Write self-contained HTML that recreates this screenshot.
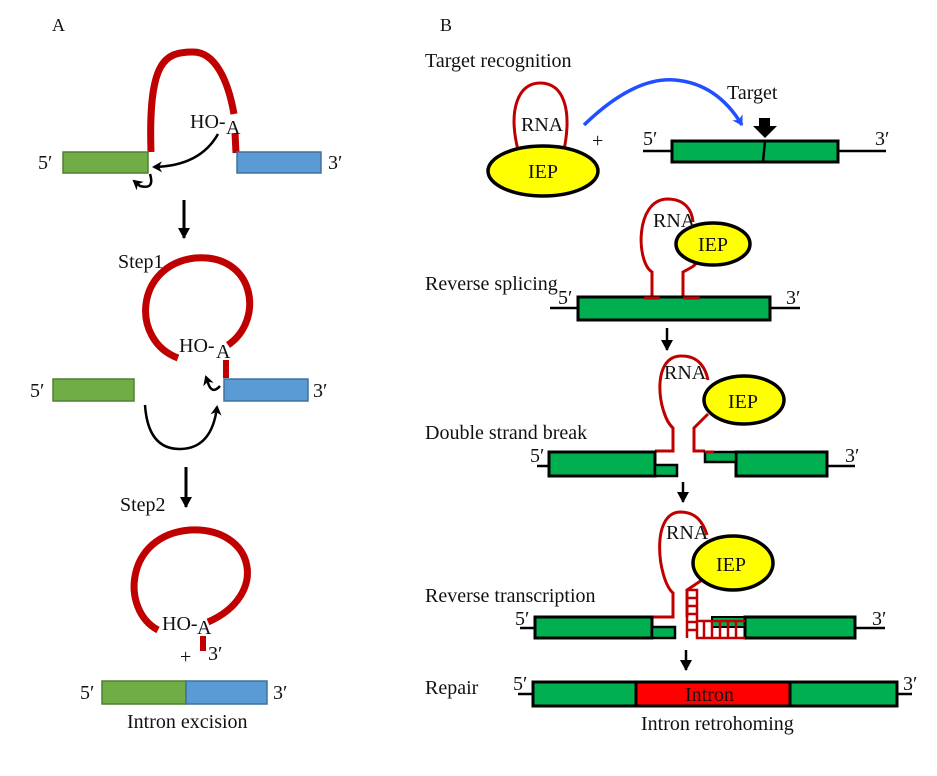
<!DOCTYPE html>
<html><head><meta charset="utf-8"><style>
body{margin:0;background:#fff}
svg text{font-family:"Liberation Serif",serif;font-size:20px;fill:#111}
</style></head><body>
<svg width="937" height="771" viewBox="0 0 937 771" xmlns="http://www.w3.org/2000/svg">
<defs>
<marker id="ah" markerWidth="11" markerHeight="11" refX="8" refY="5.5" orient="auto" markerUnits="userSpaceOnUse"><path d="M0,0 L10,5.5 L0,11 L3,5.5z" fill="#000"/></marker>
<marker id="ab" markerWidth="12" markerHeight="12" refX="9" refY="6" orient="auto" markerUnits="userSpaceOnUse"><path d="M0,0 L10,6 L0,12 L3,6z" fill="#1f4fff"/></marker>
<marker id="ad" markerWidth="12" markerHeight="12" refX="10" refY="6" orient="auto" markerUnits="userSpaceOnUse"><path d="M0,0 L11,6 L0,12z" fill="#000"/></marker>
</defs>
<!-- Panel A -->
<text x="52" y="31" style="font-size:18px">A</text>
<path d="M151,152 C148,60 165,52 193,52 C215,52 228,80 234,114" stroke="#c00000" stroke-width="7" fill="none"/>
<line x1="235" y1="133" x2="236" y2="153" stroke="#c00000" stroke-width="7"/>
<text x="190" y="128">HO-</text><text x="226" y="134">A</text>
<rect x="63" y="152" width="85" height="21" fill="#70ad47" stroke="#507e32" stroke-width="1.5"/>
<rect x="237" y="152" width="84" height="21" fill="#5b9bd5" stroke="#41719c" stroke-width="1.5"/>
<text x="38" y="169">5′</text><text x="328" y="169">3′</text>
<path d="M218,134 Q200,166 154,167" stroke="#000" stroke-width="2.5" fill="none" marker-end="url(#ah)"/>
<path d="M150,174 Q155,190 140,186 L134,181" stroke="#000" stroke-width="2.5" fill="none" marker-end="url(#ah)"/>
<line x1="184" y1="200" x2="184" y2="238" stroke="#000" stroke-width="3" marker-end="url(#ad)"/>
<text x="118" y="268">Step1</text>
<path d="M178,358 C130,340 135,265 195,258 C255,253 265,320 228,345" stroke="#c00000" stroke-width="7" fill="none"/>
<text x="179" y="352">HO-</text><text x="216" y="358">A</text>
<line x1="226" y1="360" x2="226" y2="378" stroke="#c00000" stroke-width="6"/>
<rect x="53" y="379" width="81" height="22" fill="#70ad47" stroke="#507e32" stroke-width="1.5"/>
<rect x="224" y="379" width="84" height="22" fill="#5b9bd5" stroke="#41719c" stroke-width="1.5"/>
<text x="30" y="397">5′</text><text x="313" y="397">3′</text>
<path d="M220,386 Q212,395 208,383 L206,377" stroke="#000" stroke-width="2.5" fill="none" marker-end="url(#ah)"/>
<path d="M145,405 Q148,450 181,449 Q212,448 217,407" stroke="#000" stroke-width="2.5" fill="none" marker-end="url(#ah)"/>
<line x1="186" y1="467" x2="186" y2="507" stroke="#000" stroke-width="3" marker-end="url(#ad)"/>
<text x="120" y="511">Step2</text>
<path d="M158,630 C120,610 125,535 190,530 C255,527 270,595 208,622" stroke="#c00000" stroke-width="7" fill="none"/>
<text x="162" y="630">HO-</text><text x="197" y="634">A</text>
<line x1="203" y1="636" x2="203" y2="651" stroke="#c00000" stroke-width="6"/>
<text x="180" y="663">+</text><text x="208" y="660">3′</text>
<rect x="102" y="681" width="84" height="23" fill="#70ad47" stroke="#507e32" stroke-width="1.5"/>
<rect x="186" y="681" width="81" height="23" fill="#5b9bd5" stroke="#41719c" stroke-width="1.5"/>
<text x="80" y="699">5′</text><text x="273" y="699">3′</text>
<text x="127" y="728">Intron excision</text>
<!-- Panel B -->
<text x="440" y="31" style="font-size:18px">B</text>
<text x="425" y="67">Target recognition</text>
<path d="M518,150 C508,110 518,83 540,83 C564,83 572,110 564,150" stroke="#c00000" stroke-width="3" fill="none"/>
<text x="521" y="131">RNA</text>
<ellipse cx="543" cy="171" rx="55" ry="25" fill="#ffff00" stroke="#000" stroke-width="3.5"/>
<text x="528" y="178">IEP</text>
<text x="592" y="147">+</text>
<path d="M584,125 C620,90 650,78 675,80 C710,83 730,105 742,125" stroke="#1f4fff" stroke-width="3.5" fill="none" marker-end="url(#ab)"/>
<text x="727" y="99">Target</text>
<line x1="643" y1="151" x2="886" y2="151" stroke="#000" stroke-width="2.5"/>
<rect x="672" y="141" width="166" height="21" fill="#00b050" stroke="#000" stroke-width="3"/>
<line x1="765" y1="141" x2="763" y2="162" stroke="#000" stroke-width="2.5"/>
<path d="M759,118 h11 v8 h7 l-12,12 l-12,-12 h6z" fill="#000"/>
<text x="643" y="145">5′</text><text x="875" y="145">3′</text>
<!-- reverse splicing -->
<path d="M652,298 V272 C636,262 635,200 667,199 C685,199 692,210 693,222 M683,298 V272 C690,268 694,267 697,262" stroke="#c00000" stroke-width="3" fill="none"/>
<ellipse cx="713" cy="244" rx="37" ry="21" fill="#ffff00" stroke="#000" stroke-width="3.5"/>
<text x="653" y="227">RNA</text><text x="698" y="251">IEP</text>
<text x="425" y="290">Reverse splicing</text>
<line x1="550" y1="308" x2="800" y2="308" stroke="#000" stroke-width="2.5"/>
<rect x="578" y="297" width="192" height="23" fill="#00b050" stroke="#000" stroke-width="3"/>
<line x1="644" y1="298" x2="660" y2="298" stroke="#c00000" stroke-width="3"/>
<line x1="683" y1="298" x2="700" y2="298" stroke="#c00000" stroke-width="3"/>
<text x="558" y="304">5′</text><text x="786" y="304">3′</text>
<line x1="667" y1="328" x2="667" y2="350" stroke="#000" stroke-width="2.5" marker-end="url(#ad)"/>
<!-- double strand break -->
<path d="M655,451 H673 V428 C658,415 650,355 682,356 C700,356 706,370 708,380 M705,451 H694 V428 C700,422 704,418 708,414" stroke="#c00000" stroke-width="3" fill="none"/>
<ellipse cx="744" cy="400" rx="40" ry="24" fill="#ffff00" stroke="#000" stroke-width="3.5"/>
<text x="664" y="379">RNA</text><text x="728" y="408">IEP</text>
<text x="425" y="439">Double strand break</text>
<line x1="537" y1="466" x2="549" y2="466" stroke="#000" stroke-width="2.5"/>
<line x1="827" y1="466" x2="855" y2="466" stroke="#000" stroke-width="2.5"/>
<rect x="549" y="452" width="106" height="24" fill="#00b050" stroke="#000" stroke-width="3"/>
<rect x="655" y="465" width="22" height="11" fill="#00b050" stroke="#000" stroke-width="2.5"/>
<rect x="736" y="452" width="91" height="24" fill="#00b050" stroke="#000" stroke-width="3"/>
<rect x="705" y="452" width="31" height="10" fill="#00b050" stroke="#000" stroke-width="2.5"/>
<line x1="705" y1="452" x2="714" y2="452" stroke="#c00000" stroke-width="3"/>
<text x="530" y="462">5′</text><text x="845" y="462">3′</text>
<line x1="683" y1="482" x2="683" y2="502" stroke="#000" stroke-width="2.5" marker-end="url(#ad)"/>
<!-- reverse transcription -->
<path d="M652,617 H673 V593 C658,580 650,513 680,512 C696,512 703,522 707,535 M687,617 V590 L702,580" stroke="#c00000" stroke-width="3" fill="none"/>
<ellipse cx="733" cy="563" rx="40" ry="27" fill="#ffff00" stroke="#000" stroke-width="3.5"/>
<text x="666" y="539">RNA</text><text x="716" y="571">IEP</text>
<text x="425" y="602">Reverse transcription</text>
<line x1="520" y1="628" x2="535" y2="628" stroke="#000" stroke-width="2.5"/>
<line x1="855" y1="628" x2="885" y2="628" stroke="#000" stroke-width="2.5"/>
<rect x="535" y="617" width="117" height="21" fill="#00b050" stroke="#000" stroke-width="3"/>
<rect x="652" y="627" width="23" height="11" fill="#00b050" stroke="#000" stroke-width="2.5"/>
<rect x="712" y="617" width="33" height="10" fill="#00b050" stroke="#000" stroke-width="2"/>
<rect x="745" y="617" width="110" height="21" fill="#00b050" stroke="#000" stroke-width="3"/>
<g stroke="#c00000" stroke-width="2.5" fill="none">
<path d="M687,638 V590 H697 V638 H745"/>
<line x1="687" y1="598" x2="697" y2="598"/><line x1="687" y1="606" x2="697" y2="606"/><line x1="687" y1="614" x2="697" y2="614"/><line x1="687" y1="622" x2="697" y2="622"/><line x1="687" y1="630" x2="697" y2="630"/>
<line x1="697" y1="621" x2="745" y2="621"/>
<line x1="704" y1="621" x2="704" y2="638"/><line x1="712" y1="621" x2="712" y2="638"/><line x1="720" y1="621" x2="720" y2="638"/><line x1="728" y1="621" x2="728" y2="638"/><line x1="736" y1="621" x2="736" y2="638"/>
</g>
<text x="515" y="625">5′</text><text x="872" y="625">3′</text>
<line x1="686" y1="650" x2="686" y2="670" stroke="#000" stroke-width="2.5" marker-end="url(#ad)"/>
<!-- repair -->
<text x="425" y="694">Repair</text>
<line x1="518" y1="694" x2="912" y2="694" stroke="#000" stroke-width="2.5"/>
<rect x="533" y="682" width="364" height="24" fill="#00b050" stroke="#000" stroke-width="3"/>
<rect x="636" y="682" width="154" height="24" fill="#ff0000" stroke="#000" stroke-width="3"/>
<text x="685" y="701">Intron</text>
<text x="513" y="690">5′</text><text x="903" y="690">3′</text>
<text x="641" y="730">Intron retrohoming</text>
</svg>
</body></html>
